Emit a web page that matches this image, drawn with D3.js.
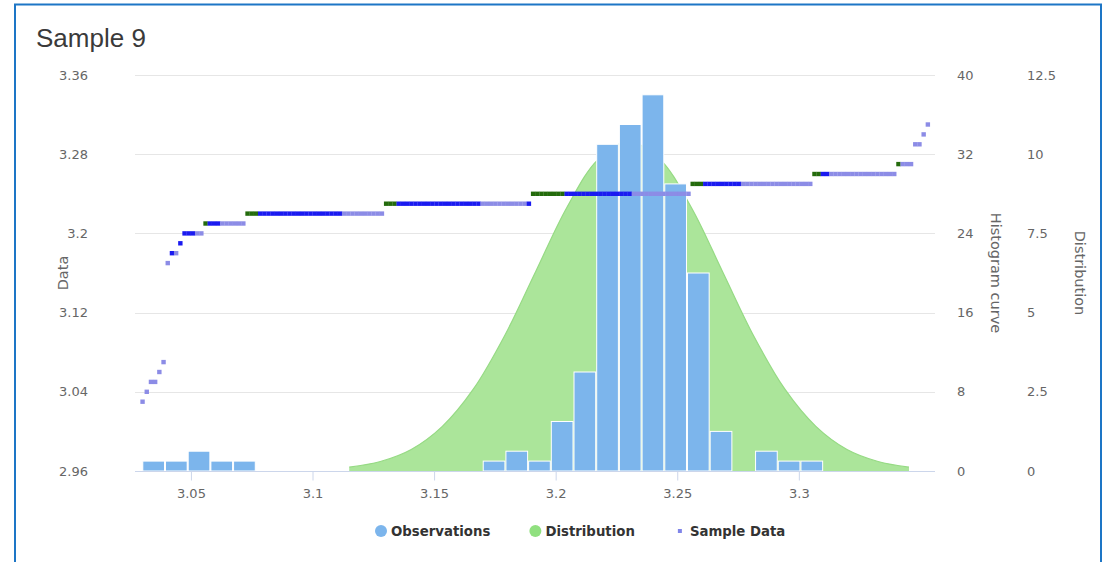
<!DOCTYPE html>
<html>
<head>
<meta charset="utf-8">
<script src="https://cdn.jsdelivr.net/npm/d3@7"></script>
<style>
  html, body { margin: 0; padding: 0; background: #ffffff; }
  svg { display: block; }
</style>
</head>
<body>
<svg id="chart" width="1109" height="562"></svg>
<script>
// ---- data ----
const titleText = "Sample 9";

// histogram of the sample: 30 equal bins from binStart to binEnd
const binStart = 3.03;
const binEnd = 3.31;
const observationCounts = [1, 1, 2, 1, 1, 0, 0, 0, 0, 0, 0, 0, 0, 0, 0,
                           1, 2, 1, 5, 10, 33, 35, 38, 29, 20, 4, 0, 2, 1, 1];

// bell curve of the sample (mean 3.2302, sd 0.0384), one point every sd/3
const distributionX = [3.1151, 3.1279, 3.1406, 3.1534, 3.1662, 3.1790, 3.1918, 3.2046, 3.2174, 3.2302,
                       3.2430, 3.2558, 3.2686, 3.2814, 3.2942, 3.3070, 3.3198, 3.3326, 3.3453];
const distributionY = [0.12, 0.30, 0.68, 1.41, 2.59, 4.27, 6.30, 8.32, 9.83, 10.39,
                       9.83, 8.32, 6.30, 4.27, 2.59, 1.41, 0.68, 0.30, 0.12];

// sorted sample values; each string holds one batch code per measurement at that value
const sampleLevels = [3.03, 3.04, 3.05, 3.06, 3.07, 3.17, 3.18, 3.19, 3.20, 3.21,
                      3.22, 3.23, 3.24, 3.25, 3.26, 3.27, 3.29, 3.30, 3.31];
const sampleBatches = [
  "c", "c", "cc", "c", "c", "c", "bc", "b", "bbbcc", "abbbcccccc",
  "aaa" + "bbbbbbbbbbbbbbbbbbbb" + "cccccccccc",
  "aaa" + "bbbbbbbbbbbbbbbbbbbb" + "ccccccccccc" + "b",
  "aaaaaaaa" + "bbbbbbbbbbbbbbbb" + "cccccccccccccc",
  "aaa" + "bbbbbbbbb" + "ccccccccccccccccc",
  "aa" + "bb" + "cccccccccccccccc",
  "accc", "cc", "c", "c"
];

const xTicks = [3.05, 3.1, 3.15, 3.2, 3.25, 3.3];
const dataTicks = [2.96, 3.04, 3.12, 3.2, 3.28, 3.36];
const histTicks = [0, 8, 16, 24, 32, 40];
const distTicks = [0, 2.5, 5, 7.5, 10, 12.5];
const legendNames = ["Observations", "Distribution", "Sample Data"];

// ---- layout & style ----
const plot = { left: 135, right: 935, top: 75, bottom: 471 };
const FONT = "'DejaVu Sans', 'Lucida Grande', sans-serif";
const COLORS = { observations: "#7cb5ec", distribution: "#abe59a", distributionLine: "#96da84", sample: "#8085e9" };
const batchColor = d3.scaleOrdinal().domain(["a", "b", "c"]).range(["#246b0c", "#1a1af0", "#8c8ce6"]);

const svg = d3.select("#chart");

// sample points flattened in sorted order
const samples = [];
sampleLevels.forEach((v, i) => {
  for (const code of sampleBatches[i]) samples.push({ value: v, batch: code });
});
samples.forEach((d, i) => d.index = i);

const binWidth = (binEnd - binStart) / observationCounts.length;
const bins = observationCounts.map((c, i) => ({ x0: binStart + i * binWidth, x1: binStart + (i + 1) * binWidth, count: c }));

// ---- scales ----
const x = d3.scaleLinear().domain([3.027, 3.356]).range([plot.left, plot.right]);
const xIndex = d3.scaleLinear().domain([-1.8, samples.length - 1 + 1.7]).range([plot.left, plot.right]);
const yData = d3.scaleLinear().domain([2.96, 3.36]).range([plot.bottom, plot.top]);
const yHist = d3.scaleLinear().domain([0, 40]).range([plot.bottom, plot.top]);
const yDist = d3.scaleLinear().domain([0, 12.5]).range([plot.bottom, plot.top]);

// frame
svg.append("rect").attr("x", 15).attr("y", 4.5).attr("width", 1086).attr("height", 620)
  .attr("fill", "none").attr("stroke", "#1d76c6").attr("stroke-width", 2);

// title
svg.append("text").attr("x", 36).attr("y", 47).text(titleText)
  .attr("font-family", "'Liberation Sans', Arial, sans-serif").attr("font-size", 26).attr("fill", "#3a3a3a");

// gridlines
svg.append("g").selectAll("line").data(dataTicks).join("line")
  .attr("x1", plot.left).attr("x2", plot.right)
  .attr("y1", d => Math.round(yData(d)) + 0.5).attr("y2", d => Math.round(yData(d)) + 0.5)
  .attr("stroke", "#e6e6e6").attr("stroke-width", 1);

// distribution (area spline)
const distPts = distributionX.map((xv, i) => [xv, distributionY[i]]);
svg.append("path").datum(distPts)
  .attr("d", d3.area().x(d => x(d[0])).y0(yDist(0)).y1(d => yDist(d[1])).curve(d3.curveCatmullRom.alpha(0.5)))
  .attr("fill", COLORS.distribution);
svg.append("path").datum(distPts)
  .attr("d", d3.line().x(d => x(d[0])).y(d => yDist(d[1])).curve(d3.curveCatmullRom.alpha(0.5)))
  .attr("fill", "none").attr("stroke", COLORS.distributionLine).attr("stroke-width", 1.2);

// histogram bars
svg.append("g").selectAll("rect").data(bins.filter(b => b.count > 0)).join("rect")
  .attr("x", d => x(d.x0) + 0.5)
  .attr("width", d => x(d.x1) - x(d.x0) - 1)
  .attr("y", d => yHist(d.count))
  .attr("height", d => yHist(0) - yHist(d.count))
  .attr("fill", COLORS.observations).attr("stroke", "#ffffff").attr("stroke-width", 1);

// x axis
const gx = svg.append("g").attr("transform", `translate(0,${plot.bottom + 0.5})`)
  .call(d3.axisBottom(x).tickValues(xTicks).tickFormat(d => String(d)).tickSize(9).tickPadding(8));
gx.select(".domain").attr("stroke", "#ccd6eb").attr("d", `M${plot.left},0H${plot.right}`);
gx.selectAll(".tick line").attr("stroke", "#ccd6eb");
gx.selectAll("text").attr("font-family", FONT).attr("font-size", 13).attr("fill", "#666");

// left axis (sample data)
const gl = svg.append("g").attr("transform", `translate(${plot.left},0)`)
  .call(d3.axisLeft(yData).tickValues(dataTicks).tickFormat(d => String(d)).tickSize(0).tickPadding(47));
gl.select(".domain").remove();
gl.selectAll("text").attr("font-family", FONT).attr("font-size", 13).attr("fill", "#666");

// right axes
const gr1 = svg.append("g").attr("transform", `translate(${plot.right},0)`)
  .call(d3.axisRight(yHist).tickValues(histTicks).tickSize(0).tickPadding(22));
gr1.select(".domain").remove();
gr1.selectAll("text").attr("font-family", FONT).attr("font-size", 13).attr("fill", "#666");

const gr2 = svg.append("g").attr("transform", `translate(${plot.right},0)`)
  .call(d3.axisRight(yDist).tickValues(distTicks).tickFormat(d => String(d)).tickSize(0).tickPadding(92));
gr2.select(".domain").remove();
gr2.selectAll("text").attr("font-family", FONT).attr("font-size", 13).attr("fill", "#666");

// axis titles
const midY = (plot.top + plot.bottom) / 2;
function axisTitle(txt, xPos, rot) {
  svg.append("text").attr("transform", `translate(${xPos},${midY}) rotate(${rot})`)
    .attr("text-anchor", "middle").attr("dominant-baseline", "central")
    .attr("font-family", FONT).attr("font-size", 14.5).attr("fill", "#666").text(txt);
}
axisTitle("Data", 63, -90);
axisTitle("Histogram curve", 996, 90);
axisTitle("Distribution", 1080, 90);

// sample data scatter (square markers)
const ms = 4.4;
svg.append("g").selectAll("rect").data(samples).join("rect")
  .attr("x", d => xIndex(d.index) - ms / 2)
  .attr("y", d => yData(d.value) - ms / 2)
  .attr("width", ms).attr("height", ms)
  .attr("fill", d => batchColor(d.batch));

// legend
const legendY = 531;
const lg = svg.append("g");
let cursor = 375;
legendNames.forEach((name, i) => {
  if (i < 2) {
    lg.append("circle").attr("cx", cursor + 6).attr("cy", legendY).attr("r", 6)
      .attr("fill", i === 0 ? COLORS.observations : "#90e07f");
  } else {
    lg.append("rect").attr("x", cursor + 4).attr("y", legendY - 2).attr("width", 4).attr("height", 4)
      .attr("fill", COLORS.sample);
  }
  const t = lg.append("text").attr("x", cursor + 16).attr("y", legendY + 5)
    .attr("font-family", FONT).attr("font-size", 13.3).attr("font-weight", "bold").attr("fill", "#333")
    .text(name);
  cursor += 16 + t.node().getComputedTextLength() + 39;
});
</script>
</body>
</html>
